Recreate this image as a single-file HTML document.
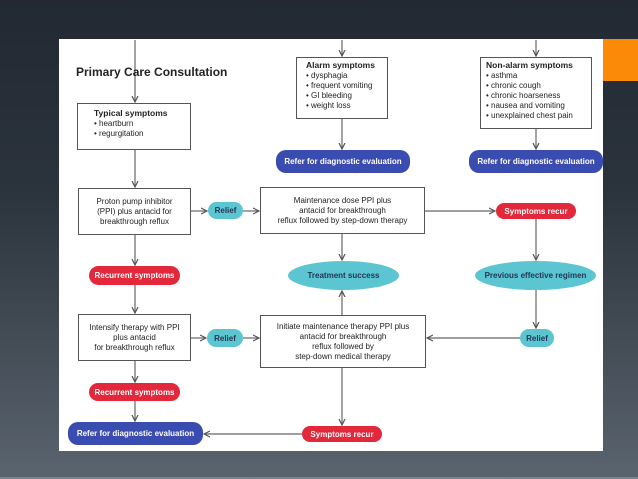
<!DOCTYPE html>
<html><head><style>
body{margin:0;width:638px;height:479px;overflow:hidden;background:linear-gradient(#222932 0%,#2b333c 40%,#5a646e 100%);font-family:"Liberation Sans",sans-serif;position:relative}
.w{position:absolute;left:59px;top:39px;width:544px;height:412px;background:#fff}
.or{position:absolute;left:603px;top:39px;width:35px;height:42px;background:#fb8a09}
.bar{position:absolute;left:0;top:477px;width:638px;height:2px;background:#7a848d}
.a{position:absolute;box-sizing:border-box}
.b{border:1px solid #555;background:#fff;font-size:8px;color:#222;line-height:10px}
.c{display:flex;align-items:center;justify-content:center;text-align:center}
.p{border-radius:10px;font-size:8px;font-weight:bold;display:flex;align-items:center;justify-content:center;white-space:nowrap}
.r{background:#e2283a;color:#fff}.bl{background:#3a4cb0;color:#fff}.cy{background:#5cc5d2;color:#1f3550}
.el{border-radius:50%}
ul{margin:0;padding:0;list-style:none}
li:before{content:"• ";}
</style></head><body>
<div class="w"></div><div class="or"></div><div class="bar"></div>
<svg class="a" style="left:0;top:0" width="638" height="479">
<defs><marker id="m" markerWidth="6" markerHeight="6" refX="5" refY="3" orient="auto"><path d="M0,0.5 L5,3 L0,5.5" fill="none" stroke="#555" stroke-width="1"/></marker></defs>
<g stroke="#666" stroke-width="1.2" fill="none" marker-end="url(#m)">
<line x1="135" y1="40" x2="135" y2="102"/>
<line x1="342" y1="40" x2="342" y2="56"/>
<line x1="536" y1="40" x2="536" y2="56"/>
<line x1="342" y1="119" x2="342" y2="149"/>
<line x1="536" y1="129" x2="536" y2="149"/>
<line x1="135" y1="150" x2="135" y2="187"/>
<line x1="191" y1="211" x2="207" y2="211"/>
<line x1="243" y1="211" x2="259" y2="211"/>
<line x1="425" y1="211" x2="495" y2="211"/>
<line x1="135" y1="235" x2="135" y2="265"/>
<line x1="342" y1="234" x2="342" y2="260"/>
<line x1="536" y1="219" x2="536" y2="260"/>
<line x1="135" y1="285" x2="135" y2="313"/>
<line x1="342" y1="315" x2="342" y2="291"/>
<line x1="536" y1="290" x2="536" y2="328"/>
<line x1="191" y1="338" x2="206" y2="338"/>
<line x1="243" y1="338" x2="259" y2="338"/>
<line x1="520" y1="338" x2="427" y2="338"/>
<line x1="135" y1="361" x2="135" y2="382"/>
<line x1="135" y1="401" x2="135" y2="421"/>
<line x1="342" y1="368" x2="342" y2="425"/>
<line x1="302" y1="434" x2="204" y2="434"/>
</g></svg>
<div class="a" style="left:76px;top:65px;font-size:12px;font-weight:bold;color:#222">Primary Care Consultation</div>
<div class="a b" style="left:77px;top:103px;width:114px;height:47px;padding:4px 0 0 16px"><b style="font-size:8.5px">Typical symptoms</b><ul><li>heartburn</li><li>regurgitation</li></ul></div>
<div class="a b" style="left:296px;top:57px;width:92px;height:62px;padding:2px 0 0 9px"><b style="font-size:8.5px">Alarm symptoms</b><ul><li>dysphagia</li><li>frequent vomiting</li><li>GI bleeding</li><li>weight loss</li></ul></div>
<div class="a b" style="left:480px;top:57px;width:112px;height:72px;padding:2px 0 0 5px"><b style="font-size:8.5px">Non-alarm symptoms</b><ul><li>asthma</li><li>chronic cough</li><li>chronic hoarseness</li><li>nausea and vomiting</li><li>unexplained chest pain</li></ul></div>
<div class="a p bl" style="left:276px;top:150px;width:134px;height:23px">Refer for diagnostic evaluation</div>
<div class="a p bl" style="left:469px;top:150px;width:134px;height:23px">Refer for diagnostic evaluation</div>
<div class="a b c" style="left:78px;top:188px;width:113px;height:47px">Proton pump inhibitor<br>(PPI) plus antacid for<br>breakthrough reflux</div>
<div class="a p cy" style="left:208px;top:202px;width:35px;height:17px">Relief</div>
<div class="a b c" style="left:260px;top:187px;width:165px;height:47px">Maintenance dose PPI plus<br>antacid for breakthrough<br>reflux followed by step-down therapy</div>
<div class="a p r" style="left:496px;top:203px;width:80px;height:16px">Symptoms recur</div>
<div class="a p r" style="left:89px;top:266px;width:91px;height:19px">Recurrent symptoms</div>
<div class="a p cy el" style="left:288px;top:261px;width:111px;height:29px">Treatment success</div>
<div class="a p cy el" style="left:475px;top:261px;width:121px;height:29px">Previous effective regimen</div>
<div class="a b c" style="left:78px;top:314px;width:113px;height:47px">Intensify therapy with PPI<br>plus antacid<br>for breakthrough reflux</div>
<div class="a p cy" style="left:207px;top:329px;width:36px;height:18px">Relief</div>
<div class="a b c" style="left:260px;top:315px;width:166px;height:53px">Initiate maintenance therapy PPI plus<br>antacid for breakthrough<br>reflux followed by<br>step-down medical therapy</div>
<div class="a p cy" style="left:520px;top:329px;width:34px;height:18px">Relief</div>
<div class="a p r" style="left:89px;top:383px;width:91px;height:18px">Recurrent symptoms</div>
<div class="a p bl" style="left:68px;top:422px;width:135px;height:23px">Refer for diagnostic evaluation</div>
<div class="a p r" style="left:302px;top:426px;width:80px;height:16px">Symptoms recur</div>
</body></html>
